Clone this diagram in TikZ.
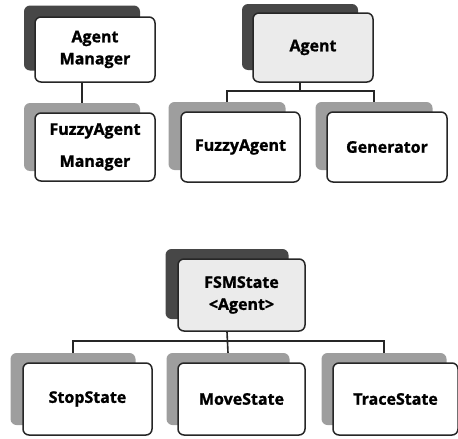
\documentclass[tikz,border=0pt]{standalone}
\usepackage{fontspec}
\setmainfont{Open Sans}[BoldFeatures={FakeBold=1.2}]
\usetikzlibrary{calc}
\begin{document}
\begin{tikzpicture}[x=1pt,y=-1pt,
  front/.style={draw=black!85, line width=1.5pt, rounded corners=6pt, fill=white,
    inner sep=0pt, align=center, font=\fontsize{16}{22}\selectfont\bfseries},
  frontdot/.style={front, fill=black!8},
  shadowdark/.style={rounded corners=6pt, fill=black!72, inner sep=0pt},
  shadowlight/.style={rounded corners=6pt, fill=black!38, inner sep=0pt},
  link/.style={draw=black!85, line width=1.6pt}]
\useasboundingbox (0,0) rectangle (458,439);
% top row
\node[shadowdark, minimum width=116pt, minimum height=65pt] (ams) at (82,38) {};
\node[front, minimum width=120pt, minimum height=65pt] (am) at (95,49.5) {Agent\\Manager};
\node[shadowdark, minimum width=116pt, minimum height=66pt] (as) at (300,37) {};
\node[frontdot, minimum width=120pt, minimum height=69pt] (a) at (313,47.5) {Agent};
% middle row
\node[shadowlight, minimum width=116pt, minimum height=68pt] (fams) at (82,137) {};
\node[front, minimum width=120pt, minimum height=68pt, font=\fontsize{16}{32}\selectfont\bfseries] (fam) at (95,147) {FuzzyAgent\\Manager};
\node[shadowlight, minimum width=117pt, minimum height=68pt] (fas) at (227,136) {};
\node[front, minimum width=119pt, minimum height=70pt] (fa) at (240.5,147) {FuzzyAgent};
\node[shadowlight, minimum width=117pt, minimum height=68pt] (gs) at (374,136) {};
\node[front, minimum width=120pt, minimum height=70pt] (g) at (387,147) {Generator};
% FSM
\node[shadowdark, minimum width=123pt, minimum height=70pt] (fss) at (227,284) {};
\node[frontdot, minimum width=127pt, minimum height=72pt] (fs) at (241.5,295) {FSMState\\<Agent>};
% bottom row
\node[shadowlight, minimum width=125pt, minimum height=72pt] (sss) at (73,389) {};
\node[front, minimum width=129pt, minimum height=72pt] (ss) at (87.5,399) {StopState};
\node[shadowlight, minimum width=123pt, minimum height=72pt] (mss) at (228,389) {};
\node[front, minimum width=127pt, minimum height=72pt] (ms) at (241.5,399) {MoveState};
\node[shadowlight, minimum width=125pt, minimum height=72pt] (tss) at (384,389) {};
\node[front, minimum width=125pt, minimum height=72pt] (ts) at (395.5,399) {TraceState};
% connectors
\draw[link] (ams.center |- am.south) -- (fams.north);
\coordinate (abus) at ($(as.center |- a.south)+(0,8)$);
\draw[link] (as.center |- a.south) -- (abus);
\draw[link] (fas.north) |- (abus) -| (gs.north);
\coordinate (fbus) at ($(fss.center |- fs.south)+(0,9)$);
\draw[link] (fss.center |- fs.south) -- (mss.north);
\draw[link] (sss.north) |- (fbus) -| (tss.north);
\end{tikzpicture}
\end{document}
